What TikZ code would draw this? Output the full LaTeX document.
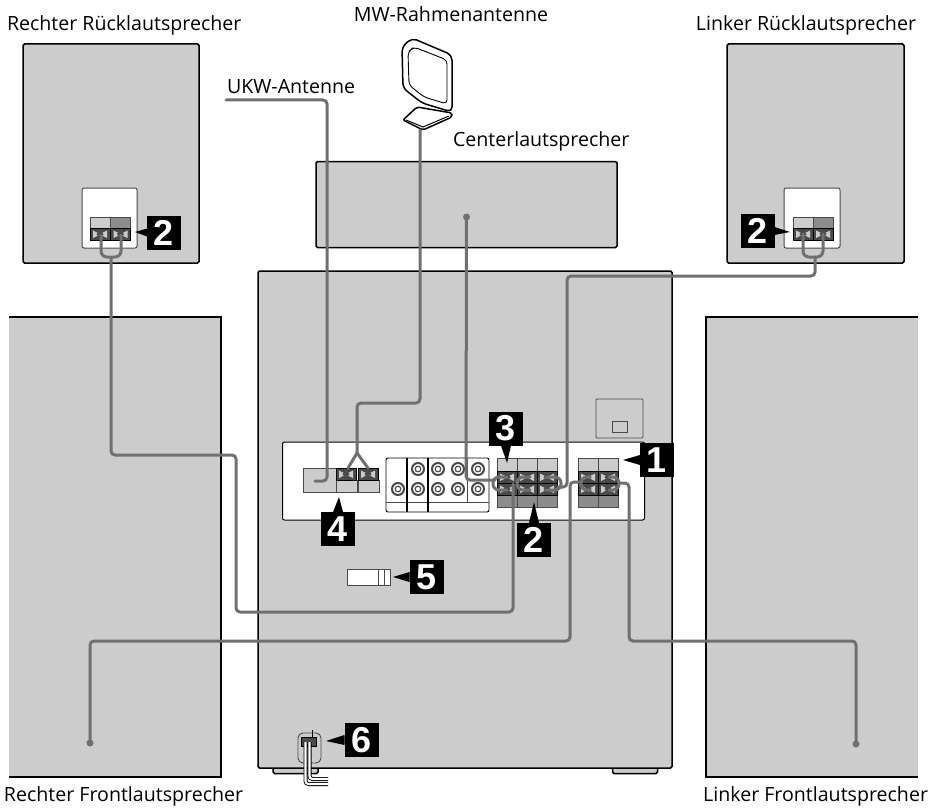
\documentclass[tikz,border=0pt]{standalone}
\usepackage{fontspec}
\setmainfont{Open Sans}
\newfontfamily\badgefont{Liberation Sans}
\definecolor{spkgray}{HTML}{CCCCCC}
\definecolor{cablegray}{HTML}{707070}
\definecolor{clampdark}{HTML}{4A4A4A}
\definecolor{baregray}{HTML}{8C8C8C}
\usetikzlibrary{positioning, arrows.meta}

\tikzset{
  clamp/.pic={
    \draw[black, line width=0.9pt, fill=clampdark] (0,0) rectangle (20,12.5);
    \fill[spkgray] (3,2.5) -- (8,5) -- (12,5) -- (17,2.5) -- (17,10) -- (12,7.5) -- (8,7.5) -- (3,10) -- cycle;
    \fill[clampdark] (10,6.25) ellipse (3.5 and 1.8);
  },
  termcol/.pic={
    \draw[clampdark, line width=0.9pt, fill=spkgray] (0,0) rectangle (20,13);
    \draw[clampdark, line width=0.9pt, fill=baregray] (0,37) rectangle (20,49);
    \pic at (0,13) {clamp};
    \pic at (0,25) {clamp};
  },
  rearcol/.pic={
    \draw[clampdark, line width=0.9pt, fill=#1] (0,0) rectangle (20,11);
    \pic at (0,11) {clamp};
  },
  antcol/.pic={
    \draw[clampdark, line width=0.9pt, fill=spkgray] (0,12) rectangle (21,24);
    \pic at (0,0) {clamp};
  },
  jack/.pic={
    \draw[clampdark, line width=2pt, fill=white] (0,0) circle (6);
    \draw[clampdark, line width=1.2pt] (0,0) circle (2.8);
  },
}

\begin{document}
\begin{tikzpicture}[
    x=1pt, y=-1pt,
    every node/.style={font=\fontsize{19.6}{22}\selectfont, inner sep=0pt, outer sep=0pt},
    speaker/.style={
      draw=black, line width=1.5pt, fill=spkgray,
      rounded corners=1.5pt,
    },
    frontspk/.style={fill=spkgray},
    panel/.style={
      draw=black, line width=1pt, fill=white,
      rounded corners=2pt,
    },
    badge/.style={
      fill=black, text=white,
      minimum width=34pt, minimum height=34pt,
      font=\badgefont\bfseries\fontsize{36}{36}\selectfont,
    },
    pointer/.style={fill=black},
    cable/.style={
      draw=cablegray, line width=3pt,
      rounded corners=4pt, line cap=round,
    },
    loopw/.style={
      draw=cablegray, line width=3pt,
      rounded corners=6pt, line cap=round,
    },
    dot/.style={circle, fill=cablegray, minimum size=7pt},
    thinline/.style={draw=clampdark, line width=0.9pt},
  ]
  \useasboundingbox (0,0) rectangle (938,808);

  % speakers
  \node[speaker, minimum width=176pt, minimum height=219pt] (rearr) at (111,153.5) {};
  \node[speaker, minimum width=177pt, minimum height=219pt] (rearl) at (815.5,153.5) {};
  \node[speaker, minimum width=301pt, minimum height=86pt] (center) at (466.5,204.5) {};
  \node[frontspk, minimum width=212pt, minimum height=460pt] (frontr) at (115,547) {};
  \node[frontspk, minimum width=212pt, minimum height=460pt] (frontl) at (812,547) {};
  \draw[black, line width=1.5pt] (frontr.north west) -- (frontr.north east) -- (frontr.south east) -- (frontr.south west);
  \draw[black, line width=1.5pt] (frontl.north east) -- (frontl.north west) -- (frontl.south west) -- (frontl.south east);

  % unit
  \node[speaker, minimum width=45pt, minimum height=7pt] (footl) at (295.5,770) {};
  \node[speaker, minimum width=45pt, minimum height=7pt] (footr) at (635,770) {};
  \node[speaker, minimum width=414pt, minimum height=497pt] (unit) at (465,519.5) {};
  \node[panel, minimum width=362pt, minimum height=78pt] (backpanel) at (463.5,481) {};

  % mains socket
  \node[draw=clampdark, line width=0.9pt, rounded corners=1pt, minimum width=47pt, minimum height=39pt] (socket) at (619.5,418.5) {};
  \node[draw=clampdark, line width=0.9pt, minimum width=15pt, minimum height=11pt] (socketin) at (619.5,426.5) {};

  % antenna terminals
  \node[draw=clampdark, line width=0.9pt, fill=spkgray, minimum width=33pt, minimum height=24pt] (ukwterm) at (319.5,480) {};
  \pic at (336,468) {antcol};
  \pic at (358,468) {antcol};

  % jacks
  \node[panel, line width=0.9pt, minimum width=103pt, minimum height=54pt] (jacks) at (437.5,485) {};
  \draw[thinline] (jacks.west |- 0,502) -- (jacks.east |- 0,502);
  \draw[black, line width=1.2pt] (407,458) -- (407,512);
  \draw[black, line width=1.2pt] (428,458) -- (428,512);
  \draw[thinline] (467,458) -- (467,502);
  \pic at (398,489) {jack};
  \pic at (418,469) {jack};
  \pic at (418,489) {jack};
  \pic at (438,469) {jack};
  \pic at (438,489) {jack};
  \pic at (458,469) {jack};
  \pic at (458,489) {jack};
  \pic at (478,469) {jack};
  \pic at (478,489) {jack};

  % speaker terminals
  \pic at (497,458) {termcol};
  \pic at (517,458) {termcol};
  \pic at (537,458) {termcol};
  \pic at (578,458) {termcol};
  \pic at (598,458) {termcol};

  % rear speaker plates
  \node[panel, draw=clampdark, minimum width=55pt, minimum height=60pt] (plater) at (109.5,218) {};
  \node[panel, draw=clampdark, minimum width=56pt, minimum height=60pt] (platel) at (812,218) {};
  \pic at (90,217) {rearcol=spkgray};
  \pic at (110.5,217) {rearcol=baregray};
  \pic at (793,217) {rearcol=spkgray};
  \pic at (813,217) {rearcol=baregray};

  % remote sensor, item 5
  \node[draw=clampdark, line width=1pt, fill=white, minimum width=43pt, minimum height=16pt] (sensor) at (368.5,577) {};
  \draw[thinline] (378,569) -- (378,585);
  \draw[thinline] (384,569) -- (384,585);

  % mains cord, item 6
  \node[draw=clampdark, line width=0.9pt, rounded corners=5pt, minimum width=23pt, minimum height=30pt] (cordframe) at (309.5,748) {};
  \node[draw=black, line width=1pt, fill=clampdark, minimum width=15pt, minimum height=9pt] (plug) at (309,741.5) {};
  \draw[black, line width=1pt] (312,730) -- (plug.north -| 312,0);
  \draw[black, line width=4pt, rounded corners=3pt] (305.5,742) -- (305.5,784) -- (328,784);
  \draw[white, line width=2.2pt, rounded corners=3pt] (305.5,742) -- (305.5,784) -- (328.5,784);
  \draw[black, line width=4pt, rounded corners=3pt] (309.5,742) -- (309.5,779) -- (328,779);
  \draw[white, line width=2.2pt, rounded corners=3pt] (309.5,742) -- (309.5,779) -- (328.5,779);

  % MW antenna
  \draw[black, line width=1.5pt, fill=white, rounded corners=2pt] (403,120) -- (417,107) -- (452,113) -- (452,117) -- (423,130) -- cycle;
  \draw[black, line width=1pt] (406,120) -- (423,127) -- (449,116);
  \draw[black, line width=1.5pt, fill=white, rounded corners=5pt] (402,47) -- (412,38) -- (452,55) -- (452,112) -- (422,103) -- (403,88) -- cycle;
  \draw[black, line width=0.9pt, fill=white, rounded corners=4pt] (408,52) -- (414,47) -- (447,60) -- (447,104) -- (424,97) -- (409,85) -- cycle;

  % connection points
  \coordinate (t1o) at (507,477);
  \coordinate (t1u) at (507,490);
  \coordinate (t2o) at (530,477);
  \coordinate (t2u) at (530,490);
  \coordinate (t3o) at (546,477);
  \coordinate (t3u) at (546,490);
  \coordinate (t4o) at (590,477);
  \coordinate (t4u) at (590,490);
  \coordinate (t5o) at (609,477);
  \coordinate (t5u) at (609,490);
  \coordinate (trr) at (101,235);
  \coordinate (trl) at (121,235);
  \coordinate (tlr) at (803,234);
  \coordinate (tll) at (823,234);
  \coordinate (mwa) at (348,468);
  \coordinate (mwb) at (368,468);
  \coordinate (ukwstart) at (226,100);
  \coordinate (ukwend) at (315,481);
  \coordinate (mwstart) at (420,130);
  \coordinate (mwfork) at (357,453);
  \node[dot] (dotc) at (466.5,217) {};
  \node[dot] (dotfr) at (90,743) {};
  \node[dot] (dotfl) at (856,744) {};

  % cables
  \draw[cable] (ukwstart) -- (327,100) -- (327,481) -- (ukwend);
  \draw[cable] (mwstart) -- (420,403) -- (357,403) -- (mwfork);
  \draw[cable, rounded corners=0pt] (mwa) -- (mwfork) -- (mwb);
  \draw[cable] (dotc) -- (466,480) -- (495,480);
  \draw[loopw] (t1o) -- (493,477) -- (493,490) -- (t1u);
  \draw[loopw] (t2o) -- (517,477) -- (517,490) -- (t2u);
  \draw[loopw] (t3o) -- (561,477) -- (561,490) -- (t3u);
  \draw[loopw] (t4o) -- (581,477) -- (581,490) -- (t4u);
  \draw[loopw] (t5o) -- (619,477) -- (619,490) -- (t5u);
  \draw[loopw] (trr) -- (101,257) -- (121,257) -- (trl);
  \draw[loopw] (tlr) -- (803,257) -- (823,257) -- (tll);
  \draw[cable] (111,257) -- (111,455) -- (236,455) -- (236,612) -- (513,612) -- (513,484);
  \draw[cable] (815,257) -- (815,276) -- (567,276) -- (567,487) -- (558,487);
  \draw[cable] (dotfr) -- (90,641) -- (570,641) -- (570,482) -- (581,482);
  \draw[cable] (dotfl) -- (856,641) -- (629,641) -- (629,483) -- (619,483);

  % badges
  \node[badge] (bone) at (657,460) {1};
  \node[badge] (btwo) at (534,540) {2};
  \node[badge] (bthree) at (506,428.5) {3};
  \node[badge] (bfour) at (338,529) {4};
  \node[badge] (bfive) at (426.5,577) {5};
  \node[badge] (bsix) at (361.5,740) {6};
  \node[badge] (btwor) at (164,232.5) {2};
  \node[badge] (btwol) at (757.5,231) {2};

  \coordinate (tipone) at (623,460);
  \coordinate (tiptwo) at (534,502);
  \coordinate (tipthree) at (507,463);
  \coordinate (tipfour) at (339,497);
  \coordinate (tipfive) at (393,577);
  \coordinate (tipsix) at (326,741);
  \coordinate (tiptwor) at (135,232);
  \coordinate (tiptwol) at (790,232);

  \fill[pointer] (tipone) -- ([yshift=5pt]bone.west) -- ([yshift=-5pt]bone.west) -- cycle;
  \fill[pointer] (tiptwo) -- ([xshift=5pt]btwo.north) -- ([xshift=-5pt]btwo.north) -- cycle;
  \fill[pointer] (tipthree) -- ([xshift=5pt]bthree.south) -- ([xshift=-5pt]bthree.south) -- cycle;
  \fill[pointer] (tipfour) -- ([xshift=5pt]bfour.north) -- ([xshift=-5pt]bfour.north) -- cycle;
  \fill[pointer] (tipfive) -- ([yshift=5pt]bfive.west) -- ([yshift=-5pt]bfive.west) -- cycle;
  \fill[pointer] (tipsix) -- ([yshift=5pt]bsix.west) -- ([yshift=-5pt]bsix.west) -- cycle;
  \fill[pointer] (tiptwor) -- ([yshift=4pt]btwor.west) -- ([yshift=-4pt]btwor.west) -- cycle;
  \fill[pointer] (tiptwol) -- ([yshift=4pt]btwol.east) -- ([yshift=-4pt]btwol.east) -- cycle;

  % labels
  \node[anchor=west] (lrr) at (7,25) {Rechter Rücklautsprecher};
  \node (lmw) at (451,14) {MW-Rahmenantenne};
  \node[anchor=east] (lrl) at (916,25) {Linker Rücklautsprecher};
  \node[anchor=west] (lukw) at (227,87) {UKW-Antenne};
  \node[anchor=west] (lc) at (453,141) {Centerlautsprecher};
  \node[anchor=west] (lfr) at (4,796) {Rechter Frontlautsprecher};
  \node[anchor=east] (lfl) at (928,796) {Linker Frontlautsprecher};
\end{tikzpicture}
\end{document}
